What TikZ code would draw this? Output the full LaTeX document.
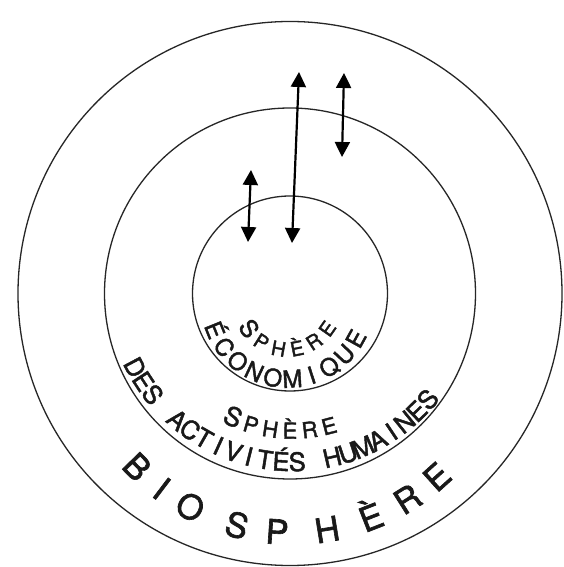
\documentclass[tikz,border=0pt]{standalone}
\usepackage{fontspec}
\setmainfont{TeX Gyre Heros}
\newfontfamily\lblfont{TeX Gyre Heros}[FakeBold=1.8]
\usetikzlibrary{arrows.meta,calc}
\newlength\clw
\newcommand\capS[1]{{\fontsize{#1}{#1}\selectfont S}}
\newcommand\wsp{\kern3pt}
% #1 centre, #2 baseline radius, #3 start angle, #4 end angle, #5 font, #6 letters
\newcommand\curvetext[6]{%
  \gdef\ctw{0}\gdef\ctn{0}%
  \foreach \curch in {#6}{\settowidth\clw{\lblfont#5\curch}\pgfmathsetmacro\ctmp{\ctw+\clw}\xdef\ctw{\ctmp}\pgfmathsetmacro\ctmp{\ctn+1}\xdef\ctn{\ctmp}}%
  \pgfmathsetmacro\carcl{abs(#4-#3)*pi/180*#2}%
  \pgfmathsetmacro\cgap{(\carcl-\ctw)/(\ctn-1)}%
  \gdef\cpos{0}%
  \foreach \curch in {#6}{\settowidth\clw{\lblfont#5\curch}%
    \pgfmathsetmacro\cang{#3+(\cpos+\clw/2)/#2*180/pi}%
    \node[letter, rotate=\cang+90, font=\lblfont#5] at ($(#1)+(\cang:#2)$) {\curch};
    \pgfmathsetmacro\ctmp{\cpos+\clw+\cgap}\xdef\cpos{\ctmp}}%
}
\begin{document}
\begin{tikzpicture}[x=1pt,y=1pt,
  ring/.style={draw=black!85, line width=1.3pt, circle, inner sep=0pt},
  flow/.style={line width=2.2pt, {Triangle[length=15pt,width=15pt]}-{Triangle[length=15pt,width=15pt]}},
  letter/.style={anchor=base, inner sep=0pt, text=black!90}]
\useasboundingbox (-290,-273.5) rectangle (273,293.5);
\fill[white] (-290,-273.5) rectangle (273,293.5);
% circles
\node[ring, minimum size=544pt] (bio) at (0,0) {};
\node[ring, minimum size=371pt] (hum) at (0,0) {};
\node[ring, minimum size=195pt] (eco) at (0,0) {};
\coordinate (ce) at (-2.6,-7.2);
\coordinate (ch) at (2.3,9.8);
\coordinate (cb) at (2.2,-22.5);
% arrow ends
\coordinate (a1t) at (9,221.5);
\coordinate (a1b) at (2,50.5);
\coordinate (a2t) at (54,220.5);
\coordinate (a2b) at (52,136.5);
\coordinate (a3t) at (-39,123.5);
\coordinate (a3b) at (-42,51.5);
\draw[flow] (a1b) -- (a1t);
\draw[flow] (a2b) -- (a2t);
\draw[flow] (a3b) -- (a3t);
% labels
\curvetext{ce}{56}{216}{325}{\fontsize{20}{21}\selectfont}{\capS{24},P,H,È,R,E}
\curvetext{ce}{87}{202}{331}{\fontsize{24}{25}\selectfont}{É,C,O,N,O,M,I,Q,U,E}
\curvetext{ch}{155}{246}{284.5}{\fontsize{22}{23}\selectfont}{\capS{26},P,H,È,R,E}
\curvetext{ch}{187.4}{208}{319.5}{\fontsize{25.5}{26}\selectfont}{D,E,S,\wsp,A,C,T,I,V,I,T,É,S,\wsp,H,U,M,A,I,N,E,S}
\foreach \ch/\a [count=\i] in {B/224.2,I/232.9,O/241.9,S/255.2,P/266,H/279.3,È/291.4,R/302.2,E/312}
  \node[letter, name=bio\i, rotate=\a+90, font=\lblfont\fontsize{34}{35}\selectfont] at ($(cb)+(\a:228.7)$) {\ch};
\end{tikzpicture}
\end{document}
